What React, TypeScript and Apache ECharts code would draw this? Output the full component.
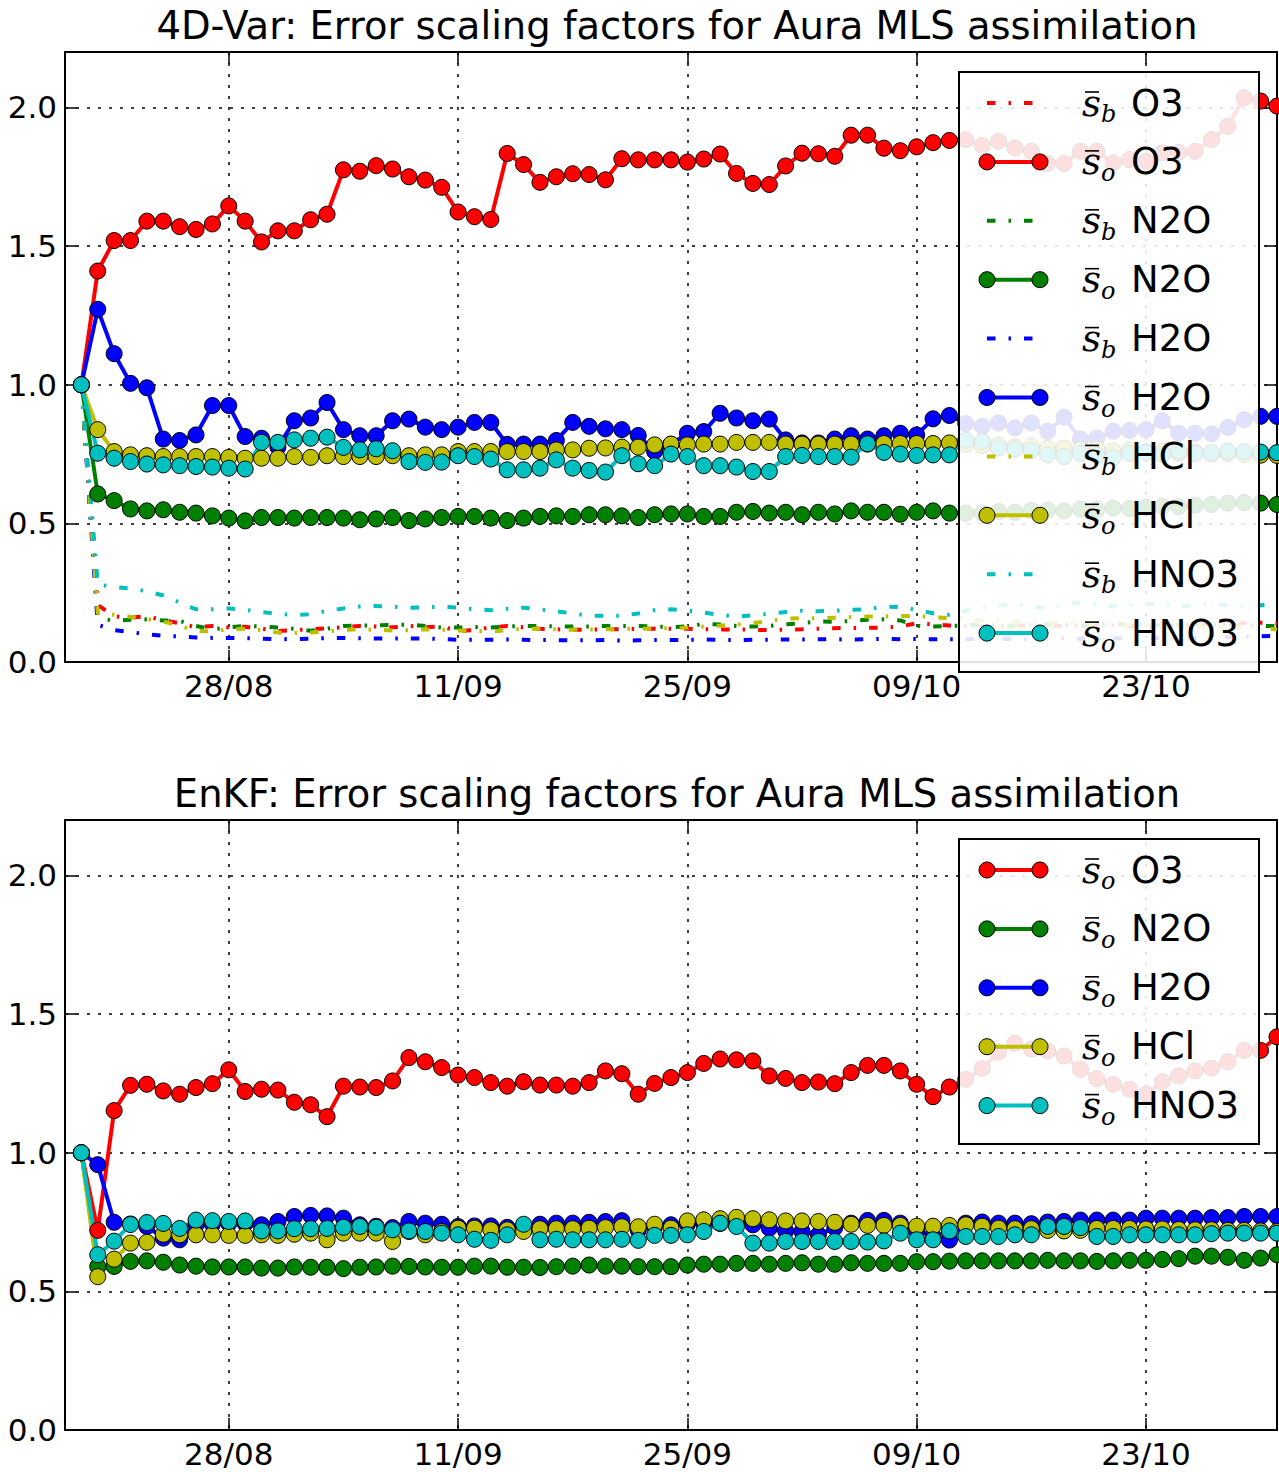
import React, { useEffect, useRef } from "react";
import * as echarts from "echarts";

// x positions: days after 18/08 (axis start). Data run daily 19/08 .. 31/10.
const axisStartDay = 0;
const axisEndDay = 74;
const firstDataDay = 1;
const xTickDays = [10, 24, 38, 52, 66];
const xTickLabels = ["28/08", "11/09", "25/09", "09/10", "23/10"];
const yTicks = [0, 0.5, 1.0, 1.5, 2.0];

const species = ["O3", "N2O", "H2O", "HCl", "HNO3"];
const speciesColors = ["#ff0000", "#008000", "#0000ff", "#bfbf00", "#00bfbf"];

const titleVar = "4D-Var: Error scaling factors for Aura MLS assimilation";
const titleEnkf = "EnKF: Error scaling factors for Aura MLS assimilation";

// ---------------- 4D-Var ----------------
const var4d_sb_O3 = [1.00, 0.205, 0.165, 0.160, 0.165, 0.150, 0.140, 0.125, 0.130, 0.125,
  0.127, 0.120, 0.112, 0.115, 0.118, 0.122, 0.125, 0.130, 0.128, 0.125,
  0.130, 0.125, 0.128, 0.112, 0.115, 0.125, 0.130, 0.125, 0.120, 0.118,
  0.116, 0.117, 0.118, 0.118, 0.120, 0.120, 0.120, 0.120, 0.118, 0.117,
  0.118, 0.116, 0.115, 0.117, 0.118, 0.120, 0.122, 0.123, 0.123, 0.124,
  0.128, 0.140, 0.135, 0.132, 0.130, 0.128, 0.130, 0.132, 0.130, 0.128,
  0.130, 0.133, 0.135, 0.132, 0.130, 0.128, 0.130, 0.132, 0.134, 0.136,
  0.138, 0.140, 0.142, 0.140];
const var4d_so_O3 = [1.00, 1.41, 1.52, 1.52, 1.59, 1.59, 1.57, 1.56, 1.58, 1.645,
  1.59, 1.515, 1.555, 1.555, 1.595, 1.615, 1.775, 1.77, 1.79, 1.778,
  1.75, 1.738, 1.712, 1.623, 1.606, 1.596, 1.834, 1.794, 1.73, 1.75,
  1.761, 1.758, 1.739, 1.815, 1.811, 1.811, 1.811, 1.803, 1.814, 1.832,
  1.762, 1.726, 1.722, 1.789, 1.835, 1.833, 1.824, 1.90, 1.90, 1.853,
  1.844, 1.858, 1.873, 1.881, 1.884, 1.863, 1.878, 1.854, 1.842, 1.798,
  1.798, 1.842, 1.842, 1.80, 1.812, 1.806, 1.836, 1.838, 1.842, 1.884,
  1.932, 2.035, 2.023, 2.005];
const var4d_sb_N2O = [1.00, 0.160, 0.148, 0.152, 0.154, 0.150, 0.148, 0.130, 0.118, 0.125,
  0.130, 0.128, 0.124, 0.120, 0.113, 0.120, 0.130, 0.132, 0.132, 0.134,
  0.135, 0.130, 0.124, 0.124, 0.126, 0.124, 0.128, 0.130, 0.130, 0.128,
  0.128, 0.128, 0.130, 0.130, 0.130, 0.128, 0.126, 0.128, 0.138, 0.135,
  0.130, 0.128, 0.130, 0.136, 0.140, 0.146, 0.145, 0.148, 0.152, 0.154,
  0.150, 0.130, 0.128, 0.130, 0.132, 0.135, 0.133, 0.130, 0.134, 0.136,
  0.133, 0.130, 0.132, 0.135, 0.137, 0.134, 0.132, 0.135, 0.138, 0.136,
  0.134, 0.132, 0.130, 0.130];
const var4d_so_N2O = [1.00, 0.606, 0.582, 0.552, 0.545, 0.549, 0.540, 0.537, 0.527, 0.519,
  0.509, 0.521, 0.521, 0.519, 0.521, 0.521, 0.519, 0.513, 0.516, 0.521,
  0.510, 0.516, 0.521, 0.525, 0.525, 0.519, 0.510, 0.519, 0.525, 0.527,
  0.525, 0.531, 0.531, 0.527, 0.521, 0.531, 0.534, 0.534, 0.525, 0.525,
  0.540, 0.543, 0.537, 0.540, 0.531, 0.540, 0.534, 0.545, 0.540, 0.540,
  0.533, 0.540, 0.545, 0.537, 0.537, 0.537, 0.543, 0.540, 0.546, 0.548,
  0.545, 0.552, 0.550, 0.555, 0.553, 0.558, 0.562, 0.560, 0.566, 0.568,
  0.573, 0.575, 0.573, 0.568];
const var4d_sb_H2O = [1.00, 0.134, 0.115, 0.108, 0.100, 0.095, 0.092, 0.088, 0.087, 0.087,
  0.086, 0.084, 0.082, 0.083, 0.084, 0.086, 0.087, 0.086, 0.085, 0.085,
  0.085, 0.085, 0.083, 0.080, 0.080, 0.080, 0.081, 0.080, 0.079, 0.079,
  0.078, 0.078, 0.079, 0.077, 0.078, 0.079, 0.079, 0.080, 0.081, 0.080,
  0.079, 0.080, 0.080, 0.081, 0.081, 0.082, 0.082, 0.081, 0.082, 0.083,
  0.082, 0.083, 0.082, 0.082, 0.082, 0.083, 0.082, 0.084, 0.083, 0.084,
  0.085, 0.084, 0.085, 0.086, 0.085, 0.087, 0.086, 0.088, 0.088, 0.089,
  0.090, 0.091, 0.093, 0.094];
const var4d_so_H2O = [1.00, 1.272, 1.112, 1.005, 0.989, 0.804, 0.799, 0.819, 0.925, 0.925,
  0.813, 0.807, 0.775, 0.870, 0.880, 0.936, 0.838, 0.816, 0.816, 0.870,
  0.876, 0.847, 0.838, 0.847, 0.864, 0.864, 0.785, 0.786, 0.786, 0.799,
  0.864, 0.850, 0.841, 0.838, 0.817, 0.759, 0.785, 0.825, 0.831, 0.897,
  0.880, 0.870, 0.876, 0.801, 0.790, 0.790, 0.804, 0.816, 0.804, 0.816,
  0.825, 0.819, 0.877, 0.889, 0.860, 0.850, 0.862, 0.844, 0.862, 0.832,
  0.883, 0.804, 0.808, 0.832, 0.835, 0.838, 0.870, 0.825, 0.825, 0.823,
  0.846, 0.874, 0.886, 0.886];
const var4d_sb_HCl = [1.00, 0.175, 0.170, 0.163, 0.155, 0.146, 0.130, 0.112, 0.110, 0.118,
  0.120, 0.115, 0.106, 0.105, 0.106, 0.110, 0.116, 0.118, 0.116, 0.114,
  0.115, 0.118, 0.116, 0.114, 0.112, 0.110, 0.115, 0.120, 0.120, 0.118,
  0.116, 0.117, 0.118, 0.120, 0.120, 0.121, 0.122, 0.124, 0.128, 0.131,
  0.135, 0.140, 0.148, 0.156, 0.158, 0.158, 0.160, 0.162, 0.164, 0.165,
  0.166, 0.166, 0.162, 0.158, 0.155, 0.150, 0.152, 0.146, 0.148, 0.142,
  0.140, 0.141, 0.136, 0.137, 0.133, 0.134, 0.130, 0.128, 0.129, 0.125,
  0.126, 0.122, 0.120, 0.118];
const var4d_so_HCl = [1.00, 0.838, 0.759, 0.747, 0.744, 0.741, 0.741, 0.741, 0.741, 0.738,
  0.735, 0.735, 0.735, 0.741, 0.738, 0.744, 0.741, 0.741, 0.741, 0.744,
  0.744, 0.747, 0.747, 0.759, 0.759, 0.759, 0.759, 0.759, 0.759, 0.765,
  0.765, 0.771, 0.772, 0.775, 0.775, 0.783, 0.786, 0.783, 0.786, 0.786,
  0.792, 0.792, 0.792, 0.786, 0.786, 0.786, 0.786, 0.786, 0.786, 0.788,
  0.788, 0.788, 0.788, 0.790, 0.786, 0.781, 0.783, 0.776, 0.778, 0.770,
  0.772, 0.766, 0.768, 0.760, 0.764, 0.758, 0.760, 0.754, 0.757, 0.750,
  0.752, 0.748, 0.746, 0.745];
const var4d_sb_HNO3 = [1.00, 0.280, 0.270, 0.265, 0.255, 0.240, 0.215, 0.190, 0.190, 0.193,
  0.188, 0.180, 0.174, 0.170, 0.172, 0.185, 0.193, 0.200, 0.202, 0.200,
  0.196, 0.197, 0.200, 0.196, 0.190, 0.187, 0.192, 0.196, 0.190, 0.183,
  0.175, 0.167, 0.167, 0.167, 0.175, 0.187, 0.190, 0.185, 0.178, 0.170,
  0.164, 0.168, 0.174, 0.180, 0.185, 0.183, 0.185, 0.188, 0.190, 0.200,
  0.198, 0.188, 0.176, 0.170, 0.185, 0.195, 0.205, 0.210, 0.200, 0.195,
  0.205, 0.215, 0.210, 0.200, 0.205, 0.210, 0.208, 0.200, 0.205, 0.210,
  0.205, 0.200, 0.205, 0.206];
const var4d_so_HNO3 = [1.00, 0.753, 0.735, 0.723, 0.714, 0.711, 0.708, 0.705, 0.703, 0.699,
  0.696, 0.792, 0.792, 0.801, 0.807, 0.811, 0.774, 0.765, 0.769, 0.762,
  0.723, 0.720, 0.721, 0.744, 0.741, 0.732, 0.693, 0.693, 0.699, 0.729,
  0.699, 0.691, 0.685, 0.744, 0.715, 0.708, 0.750, 0.741, 0.708, 0.708,
  0.703, 0.687, 0.687, 0.741, 0.745, 0.741, 0.741, 0.739, 0.787, 0.756,
  0.750, 0.745, 0.747, 0.747, 0.800, 0.795, 0.772, 0.768, 0.762, 0.747,
  0.741, 0.752, 0.745, 0.738, 0.752, 0.756, 0.748, 0.760, 0.752, 0.755,
  0.760, 0.758, 0.757, 0.755];

// ---------------- EnKF ----------------
const enkf_so_O3 = [1.00, 0.720, 1.152, 1.243, 1.247, 1.223, 1.211, 1.235, 1.249, 1.299,
  1.221, 1.229, 1.226, 1.182, 1.173, 1.130, 1.240, 1.237, 1.235, 1.259,
  1.343, 1.328, 1.307, 1.280, 1.271, 1.253, 1.240, 1.256, 1.244, 1.244,
  1.240, 1.253, 1.295, 1.285, 1.211, 1.250, 1.271, 1.289, 1.322, 1.338,
  1.335, 1.331, 1.277, 1.268, 1.253, 1.255, 1.249, 1.289, 1.315, 1.315,
  1.295, 1.247, 1.202, 1.237, 1.265, 1.304, 1.362, 1.395, 1.374, 1.367,
  1.349, 1.301, 1.267, 1.247, 1.229, 1.211, 1.256, 1.277, 1.295, 1.305,
  1.328, 1.369, 1.369, 1.418];
const enkf_so_N2O = [1.00, 0.590, 0.590, 0.608, 0.610, 0.605, 0.595, 0.591, 0.588, 0.588,
  0.588, 0.584, 0.584, 0.588, 0.587, 0.587, 0.582, 0.587, 0.588, 0.591,
  0.590, 0.588, 0.587, 0.587, 0.591, 0.591, 0.587, 0.587, 0.586, 0.589,
  0.591, 0.595, 0.591, 0.591, 0.589, 0.589, 0.589, 0.595, 0.598, 0.598,
  0.601, 0.601, 0.598, 0.601, 0.603, 0.598, 0.598, 0.603, 0.601, 0.601,
  0.601, 0.607, 0.607, 0.609, 0.610, 0.610, 0.610, 0.610, 0.610, 0.612,
  0.610, 0.610, 0.608, 0.610, 0.612, 0.612, 0.615, 0.618, 0.627, 0.627,
  0.623, 0.612, 0.620, 0.632];
const enkf_so_H2O = [1.00, 0.957, 0.749, 0.743, 0.734, 0.692, 0.686, 0.740, 0.742, 0.745,
  0.745, 0.740, 0.752, 0.770, 0.774, 0.772, 0.764, 0.740, 0.735, 0.730,
  0.752, 0.746, 0.742, 0.734, 0.736, 0.736, 0.731, 0.735, 0.742, 0.746,
  0.746, 0.749, 0.752, 0.755, 0.720, 0.735, 0.740, 0.742, 0.745, 0.745,
  0.748, 0.740, 0.728, 0.718, 0.716, 0.704, 0.730, 0.746, 0.756, 0.756,
  0.746, 0.720, 0.700, 0.685, 0.746, 0.750, 0.746, 0.746, 0.744, 0.750,
  0.752, 0.757, 0.757, 0.757, 0.757, 0.764, 0.764, 0.764, 0.764, 0.766,
  0.766, 0.770, 0.770, 0.770];
const enkf_so_HCl = [1.00, 0.553, 0.616, 0.674, 0.677, 0.706, 0.704, 0.704, 0.704, 0.702,
  0.702, 0.704, 0.702, 0.706, 0.710, 0.686, 0.710, 0.710, 0.710, 0.680,
  0.716, 0.704, 0.716, 0.728, 0.728, 0.722, 0.722, 0.716, 0.726, 0.726,
  0.726, 0.728, 0.730, 0.733, 0.733, 0.742, 0.728, 0.754, 0.758, 0.762,
  0.767, 0.762, 0.758, 0.754, 0.754, 0.752, 0.749, 0.742, 0.738, 0.738,
  0.738, 0.735, 0.735, 0.738, 0.740, 0.735, 0.728, 0.726, 0.726, 0.720,
  0.718, 0.720, 0.727, 0.727, 0.727, 0.725, 0.725, 0.723, 0.722, 0.722,
  0.720, 0.720, 0.718, 0.716];
const enkf_so_HNO3 = [1.00, 0.632, 0.681, 0.741, 0.748, 0.745, 0.727, 0.757, 0.755, 0.752,
  0.754, 0.718, 0.718, 0.726, 0.726, 0.727, 0.731, 0.734, 0.731, 0.722,
  0.718, 0.716, 0.710, 0.704, 0.688, 0.684, 0.704, 0.742, 0.686, 0.688,
  0.686, 0.686, 0.686, 0.688, 0.684, 0.702, 0.702, 0.704, 0.716, 0.746,
  0.734, 0.674, 0.674, 0.680, 0.680, 0.680, 0.680, 0.680, 0.678, 0.682,
  0.710, 0.686, 0.686, 0.718, 0.698, 0.698, 0.698, 0.704, 0.704, 0.734,
  0.734, 0.730, 0.698, 0.698, 0.704, 0.704, 0.704, 0.704, 0.704, 0.708,
  0.710, 0.710, 0.710, 0.710];

const var4dB = [var4d_sb_O3, var4d_sb_N2O, var4d_sb_H2O, var4d_sb_HCl, var4d_sb_HNO3];
const var4dO = [var4d_so_O3, var4d_so_N2O, var4d_so_H2O, var4d_so_HCl, var4d_so_HNO3];
const enkfO = [enkf_so_O3, enkf_so_N2O, enkf_so_H2O, enkf_so_HCl, enkf_so_HNO3];

// ---------------- layout / style ----------------
const W = 1279;
const H = 1472;
const GRID_LEFT = 65;
const GRID_W = 1212;
const GRID_H = 610;
const GRID_TOPS = [52, 820];
const DASHDOT = [8.5, 13, 2.5, 13];
const FONT = '"DejaVu Sans", sans-serif';
const MATH_FONT = '"DejaVu Serif", serif';

function toPoints(vals: number[]) {
  return vals.map((v, i) => [firstDataDay + i, v]);
}

function makeAxes(g: number) {
  const tickLine = { color: "#000", width: 1.5 };
  const spine = { show: true, onZero: false, lineStyle: { color: "#000", width: 2 } };
  const grid = { show: true, lineStyle: { color: "#000", width: 1.5, type: [3, 8] } };
  const x = [
    {
      type: "value", gridIndex: g, position: "bottom", min: axisStartDay, max: axisEndDay,
      axisLine: spine,
      axisTick: { show: true, inside: true, length: 12, customValues: xTickDays, lineStyle: tickLine },
      axisLabel: {
        show: true, customValues: xTickDays, margin: 8, color: "#000", fontSize: 31, fontFamily: FONT,
        formatter: (v: number) => xTickLabels[xTickDays.indexOf(Math.round(v))] ?? "",
      },
      splitLine: grid,
    },
    {
      type: "value", gridIndex: g, position: "top", min: axisStartDay, max: axisEndDay,
      axisLine: spine,
      axisTick: { show: true, inside: true, length: 12, customValues: xTickDays, lineStyle: tickLine },
      axisLabel: { show: false },
      splitLine: { show: false },
    },
  ];
  const y = [
    {
      type: "value", gridIndex: g, position: "left", min: 0, max: 2.2,
      axisLine: spine,
      axisTick: { show: true, inside: true, length: 12, customValues: yTicks, lineStyle: tickLine },
      axisLabel: {
        show: true, customValues: yTicks, margin: 8, color: "#000", fontSize: 31, fontFamily: FONT,
        formatter: (v: number) => v.toFixed(1),
      },
      splitLine: grid,
    },
    {
      type: "value", gridIndex: g, position: "right", min: 0, max: 2.2,
      axisLine: spine,
      axisTick: { show: true, inside: true, length: 12, customValues: yTicks, lineStyle: tickLine },
      axisLabel: { show: false },
      splitLine: { show: false },
    },
  ];
  return { x, y };
}

function lineSeries(vals: number[], color: string, withMarkers: boolean, axisIdx: number) {
  return {
    type: "line",
    xAxisIndex: axisIdx,
    yAxisIndex: axisIdx,
    data: toPoints(vals),
    symbol: withMarkers ? "circle" : "none",
    symbolSize: 16,
    showSymbol: withMarkers,
    showAllSymbol: true,
    clip: true,
    silent: true,
    animation: false,
    itemStyle: { color, borderColor: "#000", borderWidth: 1 },
    lineStyle: { color, width: 4, type: withMarkers ? "solid" : DASHDOT, cap: "butt" },
    emphasis: { disabled: true },
  };
}

type LegendEntry = { kind: string; color: string; label: string };

function legendElements(boxTop: number, boxHeight: number, entries: LegendEntry[]) {
  const els: any[] = [];
  const Z = 100;
  els.push({
    type: "rect", z: Z, silent: true,
    shape: { x: 959, y: boxTop, width: 300, height: boxHeight },
    style: { fill: "rgba(255,255,255,0.88)", stroke: "#000", lineWidth: 2 },
  });
  entries.forEach((e, k) => {
    const y = boxTop + 31 + 58.9 * k;
    const x1 = 987;
    const x2 = 1040;
    els.push({
      type: "line", z: Z + 1, silent: true,
      shape: { x1, y1: y, x2, y2: y },
      style: e.kind === "b"
        ? { stroke: e.color, lineWidth: 4, lineDash: DASHDOT, lineCap: "butt" }
        : { stroke: e.color, lineWidth: 4 },
    });
    if (e.kind === "o") {
      [x1, x2].forEach((cx) =>
        els.push({
          type: "circle", z: Z + 2, silent: true,
          shape: { cx, cy: y, r: 8 },
          style: { fill: e.color, stroke: "#000", lineWidth: 1 },
        })
      );
    }
    const sx = 1082;
    els.push({
      type: "text", z: Z + 2, silent: true, x: sx, y,
      style: { text: "s", fill: "#000", font: `italic 37px ${MATH_FONT}`, align: "left", verticalAlign: "middle" },
    });
    els.push({
      type: "line", z: Z + 2, silent: true,
      shape: { x1: sx + 3, y1: y - 11, x2: sx + 17, y2: y - 11 },
      style: { stroke: "#000", lineWidth: 1.6 },
    });
    els.push({
      type: "text", z: Z + 2, silent: true, x: sx + 19, y: y + 11,
      style: { text: e.kind, fill: "#000", font: `italic 24px ${MATH_FONT}`, align: "left", verticalAlign: "middle" },
    });
    els.push({
      type: "text", z: Z + 2, silent: true, x: 1131, y,
      style: { text: e.label, fill: "#000", font: `37px ${FONT}`, align: "left", verticalAlign: "middle" },
    });
  });
  return els;
}

export default function App() {
  const ref = useRef<HTMLDivElement>(null);
  useEffect(() => {
    if (!ref.current) return;
    const chart = echarts.init(ref.current, undefined, { renderer: "svg", width: W, height: H });
    const a0 = makeAxes(0);
    const a1 = makeAxes(1);
    // x axes: [0 bottom g0, 1 top g0, 2 bottom g1, 3 top g1]; same for y
    const series: any[] = [];
    species.forEach((sp, i) => {
      series.push(lineSeries(var4dB[i], speciesColors[i], false, 0));
      series.push(lineSeries(var4dO[i], speciesColors[i], true, 0));
    });
    species.forEach((sp, i) => {
      series.push(lineSeries(enkfO[i], speciesColors[i], true, 2));
    });
    const topEntries: LegendEntry[] = [];
    species.forEach((sp, i) => {
      topEntries.push({ kind: "b", color: speciesColors[i], label: sp });
      topEntries.push({ kind: "o", color: speciesColors[i], label: sp });
    });
    const bottomEntries: LegendEntry[] = species.map((sp, i) => ({ kind: "o", color: speciesColors[i], label: sp }));

    const titleEls = [
      { text: titleVar, y: 25 },
      { text: titleEnkf, y: 793 },
    ].map((t) => ({
      type: "text", z: 50, silent: true, x: GRID_LEFT + GRID_W / 2 + 6, y: t.y,
      style: { text: t.text, fill: "#000", font: `38.5px ${FONT}`, align: "center", verticalAlign: "middle" },
    }));

    chart.setOption({
      animation: false,
      backgroundColor: "#ffffff",
      grid: GRID_TOPS.map((top) => ({ left: GRID_LEFT, top, width: GRID_W, height: GRID_H, containLabel: false })),
      xAxis: [...a0.x, ...a1.x],
      yAxis: [...a0.y, ...a1.y],
      series,
      graphic: {
        elements: [
          ...titleEls,
          ...legendElements(72, 600, topEntries),
          ...legendElements(839, 305, bottomEntries),
        ],
      },
    });
    return () => chart.dispose();
  }, []);
  return (
    <div
      ref={ref}
      style={{ position: "fixed", left: 0, top: 0, width: W, height: H, background: "#fff" }}
    />
  );
}
